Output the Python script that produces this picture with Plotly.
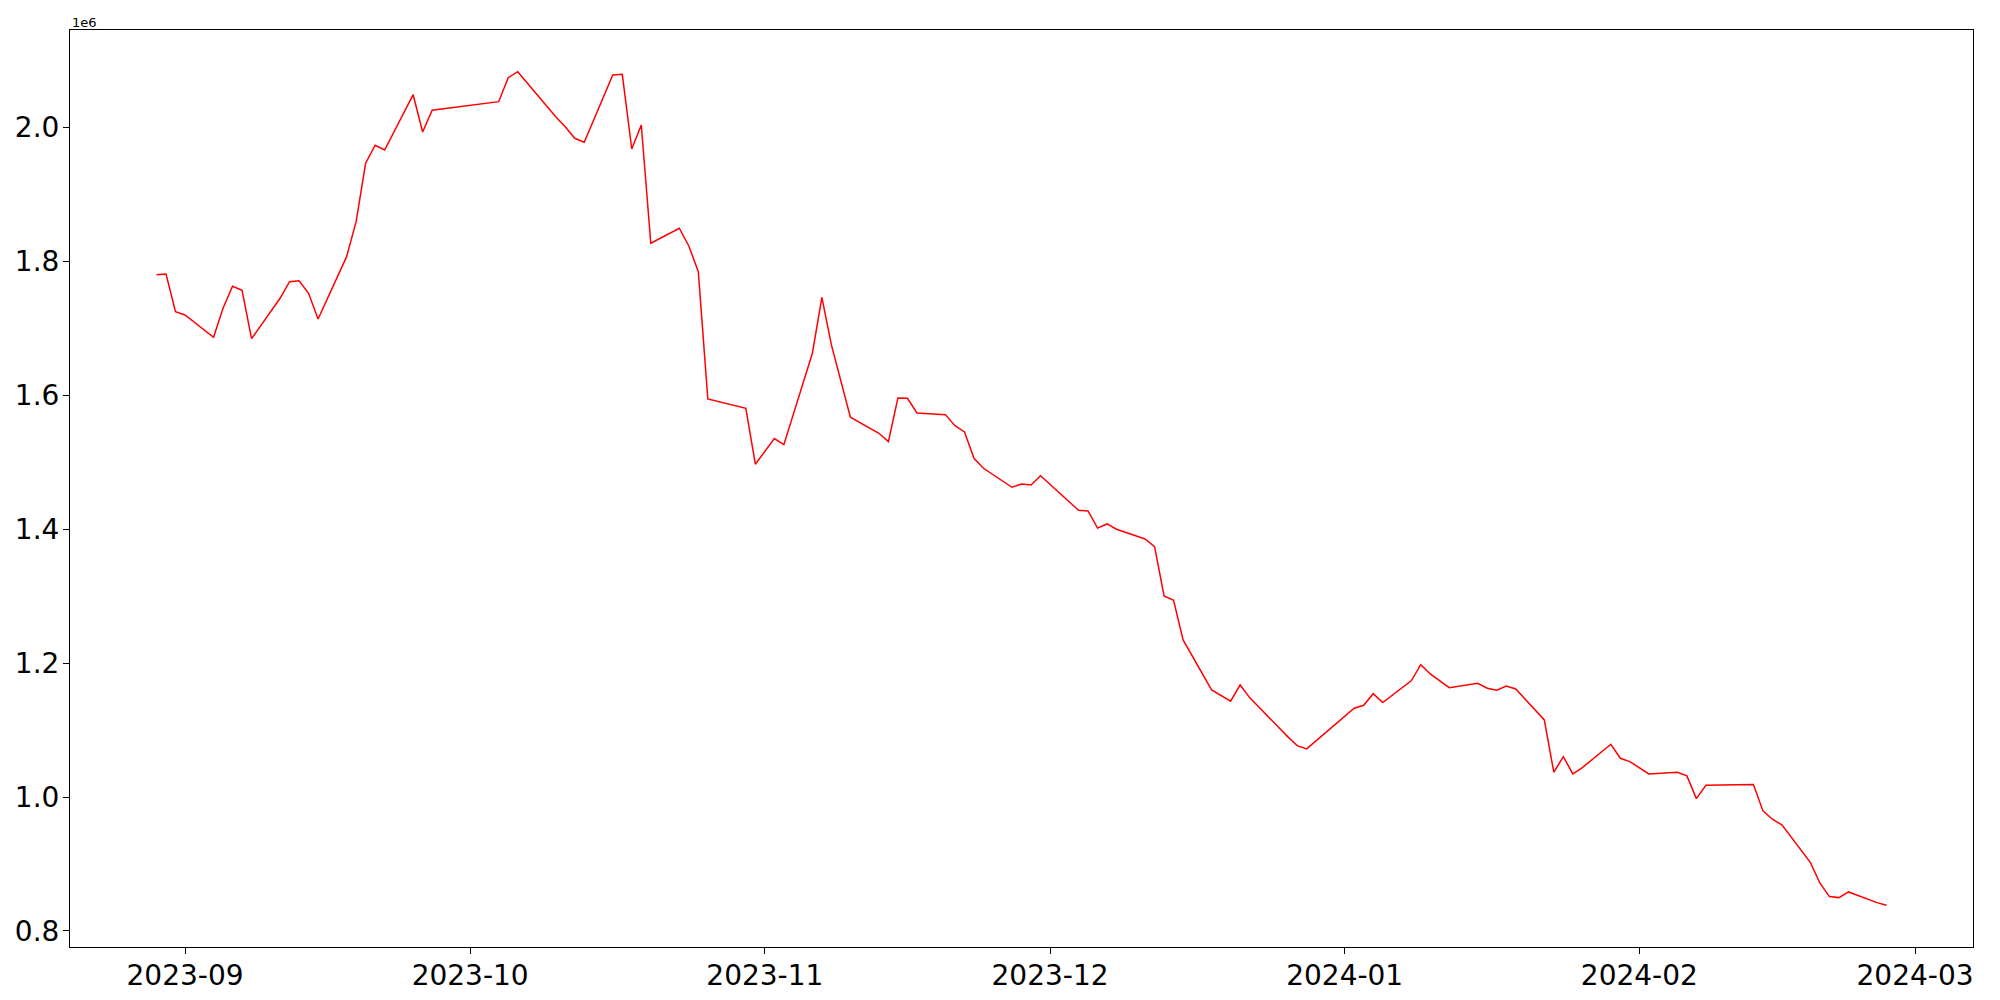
import pandas as pd
import plotly.graph_objects as go

dates = [
    "2023-08-29", "2023-08-30", "2023-08-31", "2023-09-01", "2023-09-04", "2023-09-05",
    "2023-09-06", "2023-09-07", "2023-09-08", "2023-09-11", "2023-09-12", "2023-09-13",
    "2023-09-14", "2023-09-15", "2023-09-18", "2023-09-19", "2023-09-20", "2023-09-21",
    "2023-09-22", "2023-09-25", "2023-09-26", "2023-09-27", "2023-10-04", "2023-10-05",
    "2023-10-06", "2023-10-10", "2023-10-11", "2023-10-12", "2023-10-13", "2023-10-16",
    "2023-10-17", "2023-10-18", "2023-10-19", "2023-10-20", "2023-10-23", "2023-10-24",
    "2023-10-25", "2023-10-26", "2023-10-30", "2023-10-31", "2023-11-02", "2023-11-03",
    "2023-11-06", "2023-11-07", "2023-11-08", "2023-11-10", "2023-11-13", "2023-11-14",
    "2023-11-15", "2023-11-16", "2023-11-17", "2023-11-20", "2023-11-21", "2023-11-22",
    "2023-11-23", "2023-11-24", "2023-11-27", "2023-11-28", "2023-11-29", "2023-11-30",
    "2023-12-04", "2023-12-05", "2023-12-06", "2023-12-07", "2023-12-08", "2023-12-11",
    "2023-12-12", "2023-12-13", "2023-12-14", "2023-12-15", "2023-12-18", "2023-12-20",
    "2023-12-21", "2023-12-22", "2023-12-26", "2023-12-27", "2023-12-28", "2024-01-02",
    "2024-01-03", "2024-01-04", "2024-01-05", "2024-01-08", "2024-01-09", "2024-01-10",
    "2024-01-12", "2024-01-15", "2024-01-16", "2024-01-17", "2024-01-18", "2024-01-19",
    "2024-01-22", "2024-01-23", "2024-01-24", "2024-01-25", "2024-01-26", "2024-01-29",
    "2024-01-30", "2024-01-31", "2024-02-02", "2024-02-05", "2024-02-06", "2024-02-07",
    "2024-02-08", "2024-02-13", "2024-02-14", "2024-02-15", "2024-02-16", "2024-02-19",
    "2024-02-20", "2024-02-21", "2024-02-22", "2024-02-23", "2024-02-26", "2024-02-27",
]

values = [
    1780300, 1781300, 1725000, 1720100, 1686800, 1730100,
    1763000, 1757000, 1684700, 1745000, 1769800, 1771300,
    1752500, 1714100, 1807200, 1859400, 1946700, 1973600,
    1966500, 2049100, 1993400, 2025800, 2038700, 2074500,
    2083500, 2016300, 2001300, 1984000, 1978000, 2078600,
    2079600, 1968000, 2003900, 1827200, 1849600, 1823100,
    1784800, 1594600, 1580700, 1497100, 1535500, 1526400,
    1662900, 1746500, 1675300, 1567300, 1543400, 1530800,
    1596100, 1595700, 1573700, 1571200, 1554700, 1545300,
    1506000, 1491100, 1462700, 1467600, 1466100, 1480000,
    1428400, 1427300, 1401700, 1407900, 1400000, 1385500,
    1374000, 1300400, 1293900, 1234600, 1160000, 1143100,
    1167400, 1148500, 1090200, 1076700, 1071800, 1132600,
    1137100, 1154400, 1141000, 1173600, 1197700, 1183800,
    1163400, 1169900, 1162500, 1159500, 1165900, 1161400,
    1115100, 1037000, 1060300, 1034500, 1043900, 1078800,
    1057900, 1052900, 1034500, 1037000, 1031500, 997600,
    1017600, 1018500, 979200, 966800, 958300, 902000,
    871200, 851200, 849700, 858200, 842200, 838200,
]

y_tick_vals = [800000, 1000000, 1200000, 1400000, 1600000, 1800000, 2000000]
y_tick_text = ["0.8", "1.0", "1.2", "1.4", "1.6", "1.8", "2.0"]
x_tick_vals = ["2023-09-01", "2023-10-01", "2023-11-01", "2023-12-01",
               "2024-01-01", "2024-02-01", "2024-03-01"]
x_tick_text = ["2023-09", "2023-10", "2023-11", "2023-12", "2024-01", "2024-02", "2024-03"]

dt = pd.to_datetime(dates)
x0, x1 = dt.min(), dt.max()
xpad = (x1 - x0) * 0.05
ymin, ymax = min(values), max(values)
ypad = (ymax - ymin) * 0.05

fig = go.Figure()
fig.add_trace(go.Scatter(x=dt, y=values, mode="lines",
                         line=dict(color="red", width=1.5), showlegend=False))

axis_common = dict(showline=True, mirror=True, linecolor="black", linewidth=1,
                   ticks="outside", ticklen=6, tickwidth=1, tickcolor="black",
                   showgrid=False, zeroline=False, automargin=False,
                   tickfont=dict(family="DejaVu Sans", size=28, color="black"))

fig.update_xaxes(type="date", range=[x0 - xpad, x1 + xpad],
                 tickvals=pd.to_datetime(x_tick_vals), ticktext=x_tick_text,
                 ticklabelstandoff=-3, **axis_common)
fig.update_yaxes(range=[ymin - ypad, ymax + ypad],
                 tickvals=y_tick_vals, ticktext=y_tick_text,
                 ticklabelstandoff=-2, **axis_common)

fig.add_annotation(text="1e6", x=0, y=1, xref="paper", yref="paper",
                   xanchor="left", yanchor="bottom", showarrow=False, yshift=-2,
                   font=dict(family="DejaVu Sans", size=13, color="black"))

# the page body adds an 8px offset; margins compensate so the plot area
# lands at x 70..1973, y 30..947 in the 2000x1000 window
fig.update_layout(width=2000, height=1000, plot_bgcolor="white", paper_bgcolor="white",
                  margin=dict(l=62, r=35, t=22, b=61))

fig.write_html("out.html")
